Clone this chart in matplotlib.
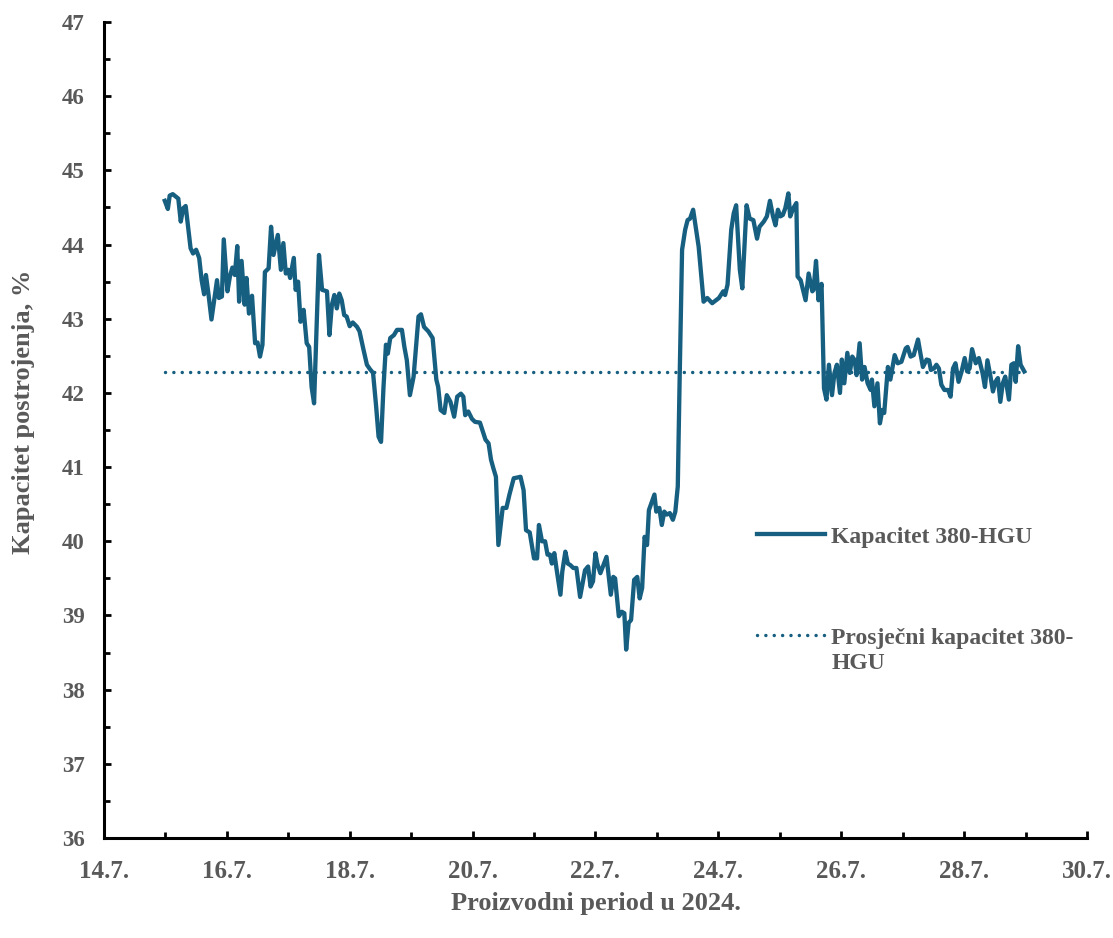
import matplotlib.pyplot as plt
from matplotlib.lines import Line2D
from matplotlib.ticker import MultipleLocator

# time as day of July 2024 (15.0 = 15.7. 00:00), capacity in %
days = [
    14.99, 15.04, 15.07, 15.12, 15.21, 15.25, 15.29, 15.33, 15.41, 15.45,
    15.50, 15.55, 15.59, 15.63, 15.66, 15.70, 15.75, 15.84, 15.87, 15.92,
    15.95, 16.01, 16.05, 16.09, 16.13, 16.17, 16.20, 16.24, 16.29, 16.32,
    16.36, 16.41, 16.46, 16.50, 16.54, 16.58, 16.62, 16.68, 16.72, 16.76,
    16.83, 16.88, 16.92, 16.96, 17.00, 17.03, 17.09, 17.12, 17.16, 17.20,
    17.25, 17.30, 17.34, 17.38, 17.42, 17.46, 17.50, 17.55, 17.63, 17.67,
    17.71, 17.75, 17.79, 17.83, 17.87, 17.91, 17.95, 18.00, 18.05, 18.12,
    18.16, 18.22, 18.28, 18.33, 18.38, 18.43, 18.47, 18.51, 18.55, 18.59,
    18.62, 18.66, 18.72, 18.77, 18.85, 18.89, 18.93, 18.98, 19.04, 19.12,
    19.16, 19.21, 19.28, 19.35, 19.41, 19.44, 19.48, 19.54, 19.58, 19.64,
    19.70, 19.75, 19.81, 19.85, 19.88, 19.93, 19.99, 20.04, 20.12, 20.17,
    20.21, 20.26, 20.30, 20.34, 20.38, 20.42, 20.49, 20.55, 20.60, 20.67,
    20.73, 20.78, 20.83, 20.87, 20.93, 21.00, 21.05, 21.08, 21.13, 21.18,
    21.22, 21.26, 21.29, 21.33, 21.37, 21.43, 21.46, 21.51, 21.55, 21.59,
    21.64, 21.69, 21.75, 21.83, 21.88, 21.92, 21.96, 22.00, 22.03, 22.08,
    22.18, 22.25, 22.29, 22.32, 22.38, 22.43, 22.47, 22.50, 22.54, 22.58,
    22.63, 22.68, 22.72, 22.76, 22.80, 22.84, 22.87, 22.96, 22.99, 23.04,
    23.08, 23.12, 23.16, 23.21, 23.26, 23.30, 23.34, 23.37, 23.41, 23.46,
    23.50, 23.54, 23.59, 23.68, 23.76, 23.82, 23.90, 24.01, 24.08, 24.11,
    24.15, 24.21, 24.25, 24.29, 24.35, 24.39, 24.46, 24.51, 24.57, 24.63,
    24.67, 24.74, 24.79, 24.84, 24.89, 24.93, 24.97, 25.01, 25.05, 25.09,
    25.14, 25.17, 25.22, 25.27, 25.29, 25.34, 25.42, 25.47, 25.53, 25.55,
    25.59, 25.63, 25.68, 25.72, 25.76, 25.80, 25.85, 25.89, 25.93, 25.98,
    26.01, 26.05, 26.10, 26.14, 26.18, 26.22, 26.25, 26.30, 26.34, 26.38,
    26.43, 26.48, 26.50, 26.54, 26.59, 26.63, 26.67, 26.70, 26.76, 26.80,
    26.87, 26.92, 26.98, 27.05, 27.08, 27.13, 27.18, 27.25, 27.29, 27.33,
    27.39, 27.43, 27.46, 27.51, 27.55, 27.59, 27.63, 27.68, 27.74, 27.78,
    27.82, 27.86, 27.91, 27.96, 28.01, 28.05, 28.09, 28.13, 28.19, 28.24,
    28.30, 28.34, 28.38, 28.43, 28.47, 28.51, 28.55, 28.59, 28.63, 28.67,
    28.73, 28.77, 28.81, 28.84, 28.88, 28.92, 28.98,
]
capacity = [
    44.59, 44.48, 44.66, 44.68, 44.62, 44.31, 44.49, 44.52, 43.95, 43.88,
    43.93, 43.82, 43.52, 43.33, 43.59, 43.34, 42.99, 43.52, 43.28, 43.30,
    44.07, 43.37, 43.57, 43.69, 43.59, 43.98, 43.23, 43.78, 43.19, 43.55,
    43.07, 43.31, 42.67, 42.68, 42.49, 42.65, 43.63, 43.68, 44.24, 43.86,
    44.13, 43.66, 44.02, 43.61, 43.66, 43.55, 43.82, 43.39, 43.50, 42.96,
    43.12, 42.67, 42.62, 42.08, 41.86, 42.85, 43.86, 43.39, 43.37, 42.78,
    43.19, 43.32, 43.14, 43.34, 43.25, 43.05, 43.03, 42.90, 42.95, 42.89,
    42.83, 42.60, 42.38, 42.32, 42.27, 41.82, 41.41, 41.34, 42.08, 42.65,
    42.53, 42.74, 42.78, 42.85, 42.85, 42.62, 42.44, 41.97, 42.22, 43.03,
    43.06, 42.89, 42.83, 42.74, 42.18, 42.08, 41.77, 41.73, 41.97, 41.88,
    41.68, 41.95, 41.99, 41.95, 41.70, 41.75, 41.65, 41.61, 41.60, 41.47,
    41.37, 41.32, 41.10, 40.98, 40.87, 39.95, 40.45, 40.45, 40.63, 40.85,
    40.86, 40.87, 40.69, 40.15, 40.12, 39.77, 39.77, 40.22, 40.00, 40.00,
    39.82, 39.82, 39.70, 39.84, 39.61, 39.28, 39.59, 39.86, 39.70, 39.68,
    39.64, 39.64, 39.25, 39.61, 39.66, 39.39, 39.46, 39.84, 39.70, 39.57,
    39.79, 39.28, 39.52, 39.50, 38.99, 39.05, 39.03, 38.54, 38.90, 38.94,
    39.48, 39.52, 39.23, 39.37, 40.06, 39.95, 40.42, 40.63, 40.40, 40.45,
    40.22, 40.40, 40.36, 40.38, 40.29, 40.40, 40.74, 42.18, 43.93, 44.20,
    44.33, 44.35, 44.47, 43.97, 43.23, 43.28, 43.21, 43.28, 43.37, 43.32,
    43.46, 44.20, 44.42, 44.53, 43.66, 43.41, 44.53, 44.35, 44.33, 44.08,
    44.24, 44.31, 44.38, 44.59, 44.38, 44.26, 44.47, 44.38, 44.40, 44.49,
    44.69, 44.38, 44.49, 44.56, 43.57, 43.52, 43.25, 43.61, 43.37, 43.39,
    43.78, 43.25, 43.47, 42.06, 41.91, 42.38, 41.97, 42.27, 42.38, 42.00,
    42.45, 42.13, 42.54, 42.27, 42.49, 42.44, 42.24, 42.67, 42.18, 42.35,
    42.13, 42.04, 42.18, 41.82, 42.13, 41.59, 41.77, 41.73, 42.35, 42.18,
    42.51, 42.40, 42.42, 42.60, 42.62, 42.49, 42.51, 42.72, 42.53, 42.35,
    42.45, 42.44, 42.31, 42.33, 42.38, 42.33, 42.11, 42.04, 42.04, 41.95,
    42.33, 42.40, 42.15, 42.29, 42.47, 42.29, 42.33, 42.59, 42.40, 42.47,
    42.27, 42.08, 42.44, 42.22, 42.02, 42.15, 42.20, 41.88, 42.13, 42.22,
    41.91, 42.38, 42.40, 42.15, 42.63, 42.38, 42.29,
]
average_capacity = 42.28

x_ticks = [14, 16, 18, 20, 22, 24, 26, 28, 30]
x_labels = ['14.7.', '16.7.', '18.7.', '20.7.', '22.7.', '24.7.', '26.7.', '28.7.', '30.7.']

blue = '#175f80'
grey = '#595959'
plt.rcParams['font.family'] = ['Liberation Serif', 'DejaVu Serif']
plt.rcParams['font.weight'] = 'bold'

fig = plt.figure(figsize=(11.13, 9.38), dpi=100)
ax = fig.add_axes([0.0934, 0.1066, 0.8832, 0.8699])

line, = ax.plot(days, capacity, color=blue, lw=3.1, solid_joinstyle='round')
avg, = ax.plot([days[0], days[-1]], [average_capacity, average_capacity], color=blue,
               lw=2.5, dashes=(0.01, 2.4), dash_capstyle='round')

ax.set_xlim(14, 30)
ax.set_ylim(36, 47)
ax.set_xticks(x_ticks)
ax.set_xticklabels(x_labels)
ax.xaxis.set_minor_locator(MultipleLocator(1))
ax.yaxis.set_major_locator(MultipleLocator(1))
ax.yaxis.set_minor_locator(MultipleLocator(0.5))

for s in ['top', 'right']:
    ax.spines[s].set_visible(False)
for s in ['left', 'bottom']:
    ax.spines[s].set_linewidth(2.2)
    ax.spines[s].set_color('black')

ax.tick_params(which='major', direction='in', length=5, width=2, color='black',
               labelcolor=grey)
ax.tick_params(which='minor', direction='in', length=4, width=2, color='black')
ax.tick_params(axis='y', which='major', labelsize=16.5, pad=14)
ax.tick_params(axis='x', which='major', labelsize=18, pad=16)

ax.set_xlabel('Proizvodni period u 2024.', fontsize=19, fontweight='bold',
              color=grey, labelpad=6)
ax.set_ylabel('Kapacitet postrojenja, %', fontsize=19, fontweight='bold',
              color=grey)
ax.yaxis.set_label_coords(-0.0702, 0.522)

# legend: two blocks, second one wraps its label onto a new line
leg1 = ax.legend([line], ['Kapacitet 380-HGU'], loc='center left',
                 bbox_to_anchor=(0.6643, 0.3689), frameon=False, fontsize=17,
                 labelcolor=grey, handlelength=2.9, handletextpad=0.25,
                 borderpad=0, borderaxespad=0)
ax.add_artist(leg1)
blank = Line2D([], [], color='none')
leg2 = ax.legend([avg, blank], ['Prosječni kapacitet 380-', 'HGU'], loc='center left',
                 bbox_to_anchor=(0.6643, 0.2298), frameon=False, fontsize=17,
                 labelcolor=grey, handlelength=2.9, handletextpad=0.25,
                 labelspacing=0.15, borderpad=0, borderaxespad=0)

plt.savefig('out.png', dpi=100)
